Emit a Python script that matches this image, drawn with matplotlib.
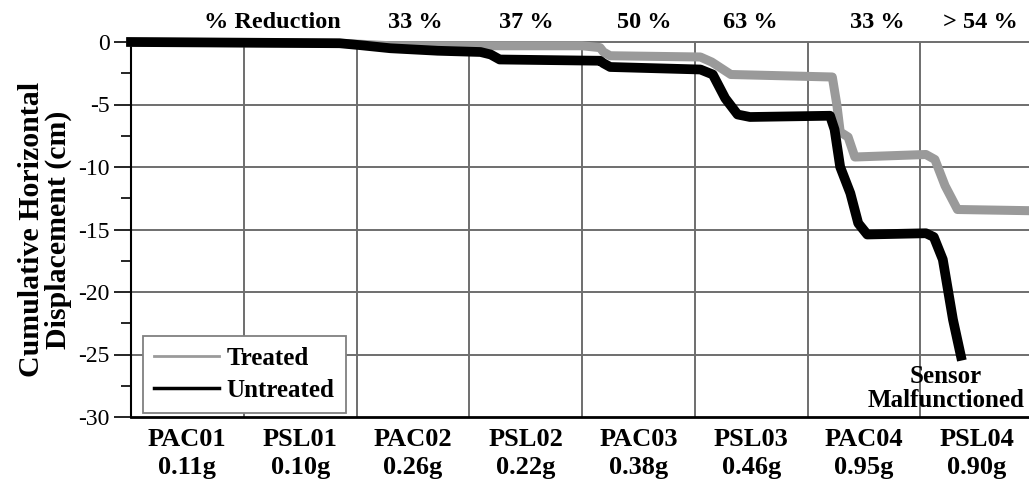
import matplotlib.pyplot as plt
from matplotlib.lines import Line2D
from matplotlib.ticker import MultipleLocator
import matplotlib.transforms as mtransforms

plt.rcParams['font.family'] = ['Liberation Serif', 'DejaVu Serif']
plt.rcParams['axes.unicode_minus'] = False

# ground motions (one segment each on the x axis)
motions = ["PAC01", "PSL01", "PAC02", "PSL02", "PAC03", "PSL03", "PAC04", "PSL04"]
pga = ["0.11g", "0.10g", "0.26g", "0.22g", "0.38g", "0.46g", "0.95g", "0.90g"]
reduction = ["33 %", "37 %", "50 %", "63 %", "33 %", "> 54 %"]
reduction_pos = [2.52, 3.51, 4.55, 5.49, 6.62, 7.53]

# displacement traces (x in motion-segment units, y in cm)
untreated_x = [0.0, 1.85, 2.03, 2.30, 2.72, 3.10, 3.19, 3.27, 4.16, 4.19, 4.25, 5.05,
               5.16, 5.27, 5.38, 5.49, 6.20, 6.24, 6.29, 6.38, 6.45, 6.53, 7.05, 7.12,
               7.20, 7.29, 7.36]
untreated_y = [0.0, -0.1, -0.25, -0.5, -0.7, -0.8, -1.0, -1.4, -1.5, -1.7, -2.0, -2.2,
               -2.6, -4.5, -5.8, -6.0, -5.9, -7.0, -10.0, -12.1, -14.5, -15.4, -15.3, -15.6,
               -17.4, -22.2, -25.1]

treated_x = [0.0, 1.85, 2.30, 3.10, 4.00, 4.16, 4.19, 4.25, 5.05, 5.15, 5.32, 6.22,
             6.26, 6.29, 6.36, 6.42, 7.05, 7.13, 7.22, 7.33, 8.0]
treated_y = [0.0, -0.1, -0.3, -0.3, -0.3, -0.45, -0.8, -1.1, -1.2, -1.6, -2.6, -2.8,
             -5.0, -7.2, -7.6, -9.2, -9.0, -9.4, -11.5, -13.4, -13.5]

fig = plt.figure(figsize=(10.29, 4.91), dpi=100)
ax = fig.add_axes([131 / 1029, 74 / 491, 902 / 1029, 375 / 491])

ax.plot(treated_x, treated_y, color="#9a9a9a", lw=6.5, solid_joinstyle="round", clip_on=False, zorder=3)
ax.plot(untreated_x, untreated_y, color="black", lw=7, solid_joinstyle="round", clip_on=False, zorder=4)

ax.set_xlim(0, 8)
ax.set_ylim(-30, 0)

# vertical separators between motions, horizontal grid every 5 cm
for i in range(1, 8):
    ax.axvline(i, color="#6e6e6e", lw=1.4, zorder=1)
for v in range(-25, 0, 5):
    ax.axhline(v, color="#6e6e6e", lw=1.4, zorder=1)

ax.set_xticks([i + 0.5 for i in range(8)])
ax.set_xticklabels([m + "\n" + g for m, g in zip(motions, pga)], fontsize=19,
                   fontweight="bold", linespacing=1.28)
ax.tick_params(axis="x", length=0, pad=8)

ax.yaxis.set_major_locator(MultipleLocator(5))
ax.yaxis.set_minor_locator(MultipleLocator(2.5))
ax.tick_params(axis="y", which="major", length=12, width=1.2, labelsize=17, direction="out")
ax.tick_params(axis="y", which="minor", length=7, width=1.2, direction="out")

ax.spines["left"].set_linewidth(1.5)
ax.spines["bottom"].set_linewidth(2)
ax.spines["top"].set_color("#6e6e6e")
ax.spines["top"].set_linewidth(1.4)
ax.spines["right"].set_visible(False)

ax.set_ylabel("Cumulative Horizontal\nDisplacement (cm)", fontsize=21.5, fontweight="bold",
              linespacing=1.0)
ax.yaxis.set_label_coords(-0.065, 0.5)

# % reduction labels above the plot
trans = mtransforms.blended_transform_factory(ax.transData, ax.transAxes)
ax.text(1.25, 1.053, "% Reduction", transform=trans, ha="center", va="center",
        fontsize=17.5, fontweight="bold")
for p, r in zip(reduction_pos, reduction):
    ax.text(p, 1.053, r, transform=trans, ha="center", va="center",
            fontsize=17.5, fontweight="bold")

ax.text(7.23, -27.7, "Sensor\nMalfunctioned", ha="center", va="center", fontsize=18,
        fontweight="bold", linespacing=1.05)

handles = [Line2D([], [], color="#9a9a9a", lw=2), Line2D([], [], color="black", lw=2.5)]
leg = ax.legend(handles, ["Treated", "Untreated"], loc="lower left",
                bbox_to_anchor=(0.013, 0.011), fancybox=False, framealpha=1,
                edgecolor="#808080", handlelength=2.6, handletextpad=0.3,
                borderpad=0.45, labelspacing=0.35, borderaxespad=0,
                prop={"size": 18, "weight": "bold"})
leg.get_frame().set_linewidth(1.3)

fig.savefig("out.png", dpi=100)
